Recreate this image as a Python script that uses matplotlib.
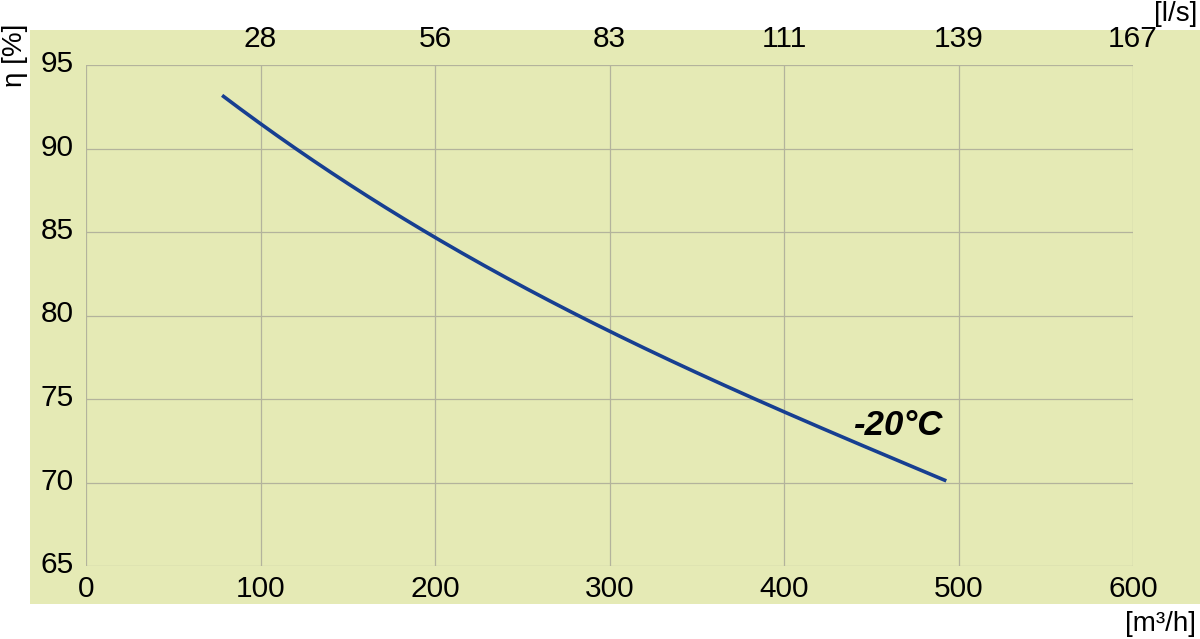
import matplotlib
matplotlib.use("Agg")
import matplotlib.pyplot as plt
from matplotlib.patches import Rectangle
import matplotlib.transforms as mtransforms
import numpy as np

plt.rcParams['font.family'] = ['Liberation Sans', 'DejaVu Sans']

# data
flow_m3h = [78, 100, 150, 200, 250, 300, 350, 400, 450, 493]
efficiency = [92.95, 91.7, 88.1, 84.6, 81.6, 79.0, 76.6, 74.3, 72.1, 70.0]
x_ticks = [0, 100, 200, 300, 400, 500, 600]
y_ticks = [65, 70, 75, 80, 85, 90, 95]
top_ticks = [100, 200, 300, 400, 500, 600]
top_labels = ['28', '56', '83', '111', '139', '167']
curve_label = '-20°C'

bg = '#e5eab5'
grid_c = '#b3b39c'
line_c = '#173f91'

fig = plt.figure(figsize=(12, 6.39), dpi=100)
fig.patches.append(Rectangle((30/1200, 1-604/639), 1170/1200, 574/639,
                             transform=fig.transFigure, facecolor=bg,
                             edgecolor='none', zorder=-10))
ax = fig.add_axes([86/1200, 1-566/639, (1133-86)/1200, (566-65)/639])
ax.set_facecolor('none')
ax.set_xlim(0, 600)
ax.set_ylim(65, 95)
ax.set_xticks(x_ticks)
ax.set_yticks(y_ticks)
ax.grid(True, color=grid_c, linewidth=0.9)
for s in ax.spines.values():
    s.set_visible(False)
ax.tick_params(axis='x', length=0, labelsize=21.5, pad=6.5)
ax.tick_params(axis='y', length=0, labelsize=21.5, pad=9)
shift = mtransforms.ScaledTranslation(0, 4/100, fig.dpi_scale_trans)
for lbl in ax.get_yticklabels():
    lbl.set_transform(lbl.get_transform() + shift)

# smooth curve through read points
xs = np.array(flow_m3h, dtype=float)
ys = np.array(efficiency, dtype=float)
coef = np.polyfit(xs, ys, 3)
xf = np.linspace(xs[0], xs[-1], 200)
ax.plot(xf, np.polyval(coef, xf), color=line_c, linewidth=2.6, solid_capstyle='butt')

ax.text(465, 73.4, curve_label, fontsize=25, fontweight='bold', fontstyle='italic',
        ha='center', va='center')

ax2 = ax.twiny()
ax2.set_facecolor('none')
ax2.set_xlim(ax.get_xlim())
ax2.set_xticks(top_ticks)
ax2.set_xticklabels(top_labels)
for s in ax2.spines.values():
    s.set_visible(False)
ax2.tick_params(length=0, labelsize=21.5, pad=8.5)

fig.text(1197/1200, 1-14/639, '[l/s]', fontsize=20, ha='right', va='center')
fig.text(1196/1200, 1-624/639, '[m³/h]', fontsize=20, ha='right', va='center')
fig.text(15/1200, 1-55/639, 'η [%]', fontsize=20, rotation=90, ha='center', va='center')

fig.savefig('out.png', dpi=100)
